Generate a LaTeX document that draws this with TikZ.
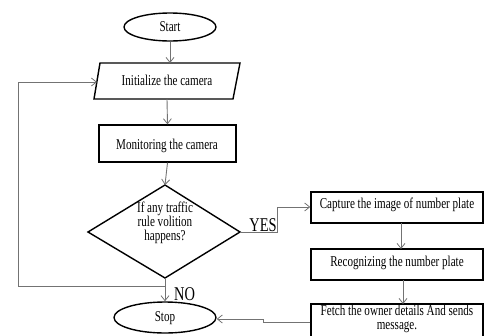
\documentclass[tikz,border=0pt]{standalone}
\usepackage{fontspec}
\newfontfamily\tnr[FakeStretch=0.74]{Liberation Serif}
\usetikzlibrary{arrows.meta,shapes.geometric}
\begin{document}
\begin{tikzpicture}[x=1pt,y=-1pt,
  shapeline/.style={draw=black, line width=1.4pt},
  txt/.style={font=\tnr\fontsize{15}{14}\selectfont, inner sep=0pt, align=center},
  bigtxt/.style={font=\tnr\fontsize{19.5}{20}\selectfont, inner sep=0pt},
  conn/.style={draw=black!55, line width=0.9pt, -{Straight Barb[length=5pt,width=8pt,line width=0.8pt]}},
  plain/.style={draw=black!55, line width=0.9pt},
  term/.style={shapeline, ellipse, inner sep=0pt},
  procbox/.style={shapeline, rectangle, inner sep=0pt}]
\useasboundingbox (0,0) rectangle (485,335);
\clip (0,0) rectangle (485,335);

% start
\node[term, minimum width=92pt, minimum height=28pt] (start) at (170,27) {};
\node[txt] (starttxt) at (170,27) {Start};

% parallelogram
\coordinate (p1) at (100,63);
\coordinate (p2) at (240,63);
\coordinate (p3) at (233,99);
\coordinate (p4) at (94,99);
\draw[shapeline] (p1) -- (p2) -- (p3) -- (p4) -- cycle;
\node[txt] (init) at (167,80) {Initialize the camera};
\coordinate (initTop) at (170,63);
\coordinate (initBot) at (167,99);
\coordinate (initL) at (97,82);

% monitoring
\node[procbox, minimum width=137pt, minimum height=37pt] (mon) at (167.5,143.5) {};
\node[txt] (montxt) at (167,146) {Monitoring the camera};

% decision
\coordinate (dT) at (165,185);
\coordinate (dR) at (240,232);
\coordinate (dB) at (165,278);
\coordinate (dL) at (88,232);
\draw[shapeline] (dT) -- (dR) -- (dB) -- (dL) -- cycle;
\node[txt] (dec) at (165,223) {If any traffic\\rule volition\\happens?};

% stop
\node[term, minimum width=102pt, minimum height=31pt] (stop) at (165,317.5) {};
\node[txt] (stoptxt) at (165,318) {Stop};

% right boxes
\node[procbox, minimum width=172pt, minimum height=31pt] (cap) at (397,207.5) {};
\node[txt] (captxt) at (397,205) {Capture the image of number plate};
\node[procbox, minimum width=172pt, minimum height=31pt] (rec) at (397,264.5) {};
\node[txt] (rectxt) at (397,263) {Recognizing the number plate};
\node[procbox, minimum width=172pt, minimum height=40pt] (fet) at (397,324) {};
\node[txt] (fettxt) at (397,319) {Fetch the owner details And sends\\message.};

% labels
\node[bigtxt, anchor=base] (yes) at (263,231) {YES};
\node[bigtxt, anchor=base west] (no) at (174,300) {NO};

% connectors
\draw[conn] (start.south) -- (initTop);
\draw[conn] (initBot) -- (mon.north);
\draw[conn] (mon.south) -- (dT);
\draw[conn] (dB) -- (stop.north);
\coordinate (j) at (165,286);
\coordinate (lc) at (18,286);
\draw[plain] (j) -- (lc);
\draw[conn] (lc) |- (initL);
\coordinate (ystep) at (277,232);
\coordinate (ytop) at (277,207);
\draw[plain] (dR) -- (ystep) -- (ytop);
\draw[conn] (ytop) -- (cap.west |- ytop);
\coordinate (a1) at (401,223);
\coordinate (a2) at (401,249);
\coordinate (b1) at (403,280);
\coordinate (b2) at (403,304);
\draw[conn] (a1) -- (a2);
\draw[conn] (b1) -- (b2);
\coordinate (f1) at (263,322);
\coordinate (f2) at (263,319);
\draw[plain] (fet.west |- f1) -- (f1) -- (f2);
\draw[conn] (f2) -- (stop.east |- f2);
\end{tikzpicture}
\end{document}
